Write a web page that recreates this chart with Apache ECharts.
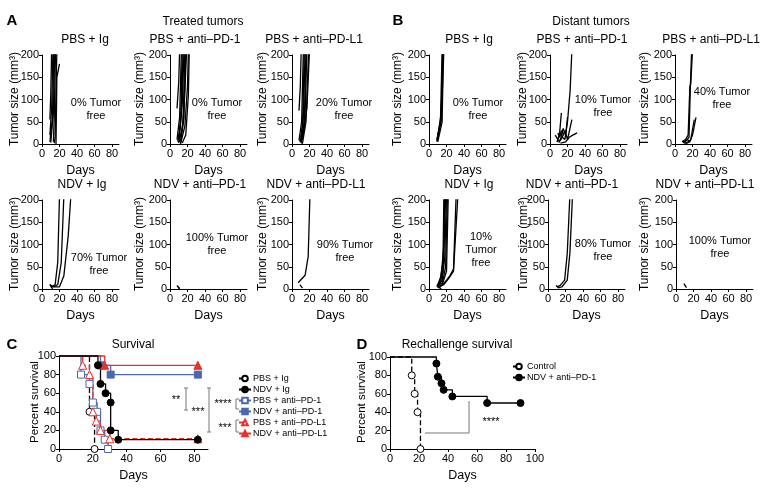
<!DOCTYPE html>
<html><head><meta charset="utf-8">
<script src="https://cdn.jsdelivr.net/npm/echarts@6/dist/echarts.min.js"></script>
<style>html,body{margin:0;padding:0;background:#fff}#c{width:764px;height:488px}</style>
</head><body><div id="c"></div><script>
// ---------- DATA ----------
const tumorXTicks = [0, 20, 40, 60, 80];
const tumorYTicks = [0, 50, 100, 150, 200];
const survXTicksC = [0, 20, 40, 60, 80];
const survXTicksD = [0, 20, 40, 60, 80, 100];

// Treated tumors (A): each array = list of mice, each mouse = [day, size mm3]
const trPBSIg = [
  [[9,55],[10,110],[11,210]],
  [[9,20],[11,80],[12.5,210]],
  [[9,5],[12,60],[13.5,210]],
  [[10,3],[13,70],[14.5,210]],
  [[13,5],[14,60],[15.5,210]],
  [[14,2],[15,15],[16,120],[17,210]],
  [[16,0],[17,150],[20,180]]
];
const trPBSPD1 = [
  [[8,80],[10,140],[11,210]],
  [[8,10],[11,60],[13,210]],
  [[9,5],[12,40],[14,210]],
  [[10,2],[13,70],[15,210]],
  [[10,15],[14,90],[16,210]],
  [[11,5],[15,50],[17,210]],
  [[12,3],[16,60],[18,210]],
  [[9,8],[14,30],[17,120],[19,210]],
  [[12,0],[17,40],[20,130],[21,210]],
  [[14,2],[18,20],[21,110],[22,210]]
];
const trPBSPDL1 = [
  [[8,75],[9.5,130],[10.5,210]],
  [[8,8],[11,50],[13,210]],
  [[9,5],[12,30],[14,210]],
  [[10,15],[13,60],[15,210]],
  [[10,3],[14,40],[16,210]],
  [[11,5],[15,70],[17,210]],
  [[12,2],[16,50],[19,210]],
  [[12,10],[17,80],[20,210]],
  [[9,10],[12,0]]
];
const trNDVIg = [
  [[9,10],[12,5],[15,10],[18,60],[20,210]],
  [[10,5],[14,5],[18,10],[22,60],[25,210]],
  [[10,8],[15,5],[20,5],[25,30],[30,120],[33,210]],
  [[9,10],[12,0]]
];
const trNDVPD1 = [
  [[8,8],[11,0]],
  [[9,5],[11,1]]
];
const trNDVPDL1 = [
  [[7,14],[15,31],[18.5,73],[20.5,210]],
  [[9,10],[12,2]]
];
// Distant tumors (B)
const diPBSIg = [
  [[9,5],[14,70],[16,210]],
  [[9,10],[14,60],[15.5,210]],
  [[10,15],[14,55],[17,210]],
  [[9,8],[13,45],[15,210]],
  [[10,5],[15,50],[16.5,210]]
];
const diPBSPD1 = [
  [[8,5],[12,25],[14,15],[17,10],[20,50],[23,120],[25,210]],
  [[6,20],[9,10],[11,25],[13,70]],
  [[8,5],[12,10],[15,35],[18,20],[20,60]],
  [[10,3],[14,15],[17,30],[20,10],[25,55]],
  [[12,2],[18,5],[22,15],[26,20],[31,25]],
  [[9,25],[11,15],[13,30],[16,20]]
];
const diPBSPDL1 = [
  [[8,5],[12,10],[15,20],[17,130],[18,135],[20,210]],
  [[9,3],[13,8],[16,15],[17.5,125],[19,210]],
  [[10,2],[15,5],[18,10],[22,55]],
  [[12,0],[17,5],[20,20],[24,60]],
  [[10,5],[14,10],[17,5]],
  [[9,8],[13,2]]
];
const diNDVIg = [
  [[9,5],[13,25],[16,60],[17,210]],
  [[10,3],[14,30],[17,100],[18,210]],
  [[9,8],[13,15],[16,40],[19,210]],
  [[10,5],[15,20],[18,70],[20,210]],
  [[11,2],[15,10],[19,50],[21,210]],
  [[10,6],[16,15],[20,40],[22,210]],
  [[12,3],[18,15],[24,30],[28,45],[31,210]],
  [[11,5],[17,10],[23,25],[28,40],[33,210]],
  [[10,5],[14,0]]
];
const diNDVPD1 = [
  [[10,5],[14,8],[19,20],[22,80],[25,210]],
  [[11,3],[16,5],[22,20],[25,80],[28,210]],
  [[9,8],[13,2]]
];
const diNDVPDL1 = [
  [[9,12],[12,3]]
];

// Survival (C): [day, percent]
const survPBSIg    = [[0,100],[18,40],[21,0]];
const survNDVIg    = [[0,100],[23,90],[24.5,70],[27.5,60],[30.5,50],[30.5,20],[35,10],[82,10]];
const survPBSPD1   = [[0,100],[13,80],[18,70],[20,50],[22.5,40],[24.5,20],[27,10],[29,0]];
const survNDVPD1   = [[0,100],[24.5,90],[30.5,80],[82,80]];
const survPBSPDL1  = [[0,100],[14,90],[18,80],[20,40],[22,30],[24.5,20],[30,11],[82,11]];
const survNDVPDL1  = [[0,100],[27,90],[82,90]];
// Rechallenge survival (D)
const rechControl  = [[0,100],[15,80],[17,60],[19,40],[21,0]];
const rechNDVPD1   = [[0,100],[32,92.9],[33,78.6],[35.5,71.4],[37,64.3],[43,57.1],[67,50],[90,50]];

// ---------- BUILD ----------
const FONT = '"Liberation Sans", Arial, Helvetica, sans-serif';
const grids = [], xAxes = [], yAxes = [], series = [], graphics = [];

function txt(x, y, text, size, o) {
  o = o || {};
  graphics.push({type:'text', x:x, y:y, rotation:o.rot||0, silent:true,
    style:{text:text, fontSize:size, fontFamily:FONT, fill:o.fill||'#000',
      fontWeight:o.bold?'bold':'normal', textAlign:o.align||'center',
      textVerticalAlign:'middle', lineHeight:o.lh||Math.round(size*1.2)}});
}
function seg(pts, color) {
  graphics.push({type:'polyline', silent:true, shape:{points:pts},
    style:{stroke:color||'#777', lineWidth:1, fill:null}});
}

const tumorPanels = [
  {d:trPBSIg,   l:42,  t:55,  title:'PBS + Ig',          tx:85,  free:'0% Tumor\nfree',   fx:96,  fy:109, ylx:15},
  {d:trPBSPD1,  l:170, t:55,  title:'PBS + anti–PD-1',   tx:195, free:'0% Tumor\nfree',   fx:217, fy:109, ylx:140},
  {d:trPBSPDL1, l:292, t:55,  title:'PBS + anti–PD-L1',  tx:314, free:'20% Tumor\nfree',  fx:344, fy:109, ylx:263},
  {d:diPBSIg,   l:429, t:55,  title:'PBS + Ig',          tx:469, free:'0% Tumor\nfree',   fx:478, fy:109, ylx:398},
  {d:diPBSPD1,  l:550, t:55,  title:'PBS + anti–PD-1',   tx:582, free:'10% Tumor\nfree',  fx:603, fy:106, ylx:523},
  {d:diPBSPDL1, l:675, t:55,  title:'PBS + anti–PD-L1',  tx:711, free:'40% Tumor\nfree',  fx:722, fy:98,  ylx:645},
  {d:trNDVIg,   l:42,  t:200, title:'NDV + Ig',          tx:82,  free:'70% Tumor\nfree',  fx:99,  fy:264, ylx:15},
  {d:trNDVPD1,  l:170, t:200, title:'NDV + anti–PD-1',   tx:200, free:'100% Tumor\nfree', fx:217, fy:244, ylx:140},
  {d:trNDVPDL1, l:292, t:200, title:'NDV + anti–PD-L1',  tx:316, free:'90% Tumor\nfree',  fx:345, fy:251, ylx:263},
  {d:diNDVIg,   l:429, t:200, title:'NDV + Ig',          tx:469, free:'10%\nTumor\nfree', fx:481, fy:250, ylx:398},
  {d:diNDVPD1,  l:548, t:200, title:'NDV + anti–PD-1',   tx:572, free:'80% Tumor\nfree',  fx:603, fy:250, ylx:524},
  {d:diNDVPDL1, l:676, t:200, title:'NDV + anti–PD-L1',  tx:705, free:'100% Tumor\nfree', fx:720, fy:247, ylx:645}
];

function axisCommon() {
  return {axisLine:{show:true, onZero:false, lineStyle:{color:'#000', width:1}},
          axisTick:{show:true, inside:false, length:3, lineStyle:{color:'#000', width:1}},
          splitLine:{show:false}};
}

tumorPanels.forEach(function(p, i) {
  grids.push({left:p.l, top:p.t, width:77, height:89});
  xAxes.push(Object.assign(axisCommon(), {gridIndex:i, type:'value', min:0, max:88,
    axisTick:{show:true, length:3, customValues:tumorXTicks, lineStyle:{color:'#000'}},
    axisLabel:{customValues:tumorXTicks, fontSize:11, color:'#000', fontFamily:FONT, margin:4},
    name:'Days', nameLocation:'middle', nameGap:20,
    nameTextStyle:{fontSize:12.5, color:'#000', fontFamily:FONT}}));
  yAxes.push(Object.assign(axisCommon(), {gridIndex:i, type:'value', min:0, max:200, interval:50,
    axisLabel:{fontSize:11, color:'#000', fontFamily:FONT, margin:3}}));
  p.d.forEach(function(curve) {
    series.push({type:'line', xAxisIndex:i, yAxisIndex:i, data:curve, showSymbol:false,
      silent:true, clip:true, lineStyle:{color:'#000', width:1.3}});
  });
  txt(p.tx, p.t - 15, p.title, 12);
  txt(p.fx, p.fy, p.free, 11, {lh:13});
  txt(p.ylx, p.t + 44, 'Tumor size (mm³)', 12, {rot:Math.PI/2});
});

// Survival C
const ciC = grids.length;
grids.push({left:59, top:356, width:149, height:93});
xAxes.push(Object.assign(axisCommon(), {gridIndex:ciC, type:'value', min:0, max:88,
  axisTick:{show:true, length:3, customValues:survXTicksC, lineStyle:{color:'#000'}},
  axisLabel:{customValues:survXTicksC, fontSize:11, color:'#000', fontFamily:FONT, margin:4},
  name:'Days', nameLocation:'middle', nameGap:20, nameTextStyle:{fontSize:12.5, color:'#000', fontFamily:FONT}}));
yAxes.push(Object.assign(axisCommon(), {gridIndex:ciC, type:'value', min:0, max:100, interval:20,
  axisLabel:{fontSize:11, color:'#000', fontFamily:FONT, margin:3}}));

const ciD = grids.length;
grids.push({left:390, top:357, width:145, height:92});
xAxes.push(Object.assign(axisCommon(), {gridIndex:ciD, type:'value', min:0, max:100, interval:20,
  axisTick:{show:true, length:3, customValues:survXTicksD, lineStyle:{color:'#000'}},
  axisLabel:{customValues:survXTicksD, fontSize:11, color:'#000', fontFamily:FONT, margin:4},
  name:'Days', nameLocation:'middle', nameGap:20, nameTextStyle:{fontSize:12.5, color:'#000', fontFamily:FONT}}));
yAxes.push(Object.assign(axisCommon(), {gridIndex:ciD, type:'value', min:0, max:100, interval:20,
  axisLabel:{fontSize:11, color:'#000', fontFamily:FONT, margin:3}}));

const BLUE = '#4a68b0', RED = '#e5322b';
function surv(name, data, gi, color, symbol, open, dashed, size) {
  series.push({type:'line', name:name, xAxisIndex:gi, yAxisIndex:gi, step:'end',
    data:data.map(function(v, k){ return k === 0 ? {value:v, symbol:'none'} : v; }),
    symbol:symbol, symbolSize:size||7, showSymbol:true, silent:true, clip:false,
    lineStyle:{color:color, width:1.3, type:dashed?'dashed':'solid'},
    itemStyle:{color:open?'#fff':color, borderColor:color, borderWidth:1}});
}
surv('PBS + Ig', survPBSIg, ciC, '#000', 'circle', true, true);
surv('PBS + anti–PD-1', survPBSPD1, ciC, BLUE, 'rect', true, false);
surv('PBS + anti–PD-L1', survPBSPDL1, ciC, RED, 'triangle', true, true, 8);
surv('NDV + anti–PD-1', survNDVPD1, ciC, BLUE, 'rect', false, false);
surv('NDV + anti–PD-L1', survNDVPDL1, ciC, RED, 'triangle', false, false, 8);
surv('NDV + Ig', survNDVIg, ciC, '#000', 'circle', false, false);
surv('Control', rechControl, ciD, '#000', 'circle', true, true);
surv('NDV + anti–PD-1 ', rechNDVPD1, ciD, '#000', 'circle', false, false);

// texts
txt(12, 21, 'A', 15, {bold:true});
txt(203, 22, 'Treated tumors', 12);
txt(398, 21, 'B', 15, {bold:true});
txt(591, 22, 'Distant tumors', 12);
txt(12, 345, 'C', 15, {bold:true});
txt(133, 345, 'Survival', 12);
txt(35, 402, 'Percent survival', 11.5, {rot:Math.PI/2});
txt(362, 345, 'D', 15, {bold:true});
txt(457, 345, 'Rechallenge survival', 12);
txt(362, 402, 'Percent survival', 11.5, {rot:Math.PI/2});

// significance annotations (C)
txt(176, 400, '**', 11);
seg([[184,388],[188,388]]); seg([[186,388],[186,410]]); seg([[184,410],[188,410]]);
txt(198, 412, '***', 11);
seg([[207,388],[211,388]]); seg([[209,388],[209,432]]); seg([[207,432],[211,432]]);
txt(223, 404, '****', 11);
seg([[239,399],[236,399],[236,409],[239,409]]);
txt(225, 428, '***', 11);
seg([[239,420],[236,420],[236,432],[239,432]]);
// (D)
seg([[425,433],[469,433],[469,401]]);
txt(491, 422, '****', 11);

const option = {
  animation:false,
  backgroundColor:'#fff',
  textStyle:{fontFamily:FONT},
  grid:grids, xAxis:xAxes, yAxis:yAxes, series:series,
  legend:[
    {data:['PBS + Ig','NDV + Ig','PBS + anti–PD-1','NDV + anti–PD-1','PBS + anti–PD-L1','NDV + anti–PD-L1'],
     orient:'vertical', left:233, top:369, itemWidth:12, itemHeight:7, itemGap:2,
     textStyle:{fontSize:9, color:'#000', fontFamily:FONT, padding:[0,0,0,-3]}, selectedMode:false},
    {data:['Control','NDV + anti–PD-1 '],
     orient:'vertical', left:507, top:357, itemWidth:12, itemHeight:7, itemGap:2,
     textStyle:{fontSize:9, color:'#000', fontFamily:FONT, padding:[0,0,0,-3]}, selectedMode:false}
  ],
  graphic:graphics
};
const chart = echarts.init(document.getElementById('c'), null, {renderer:'canvas'});
chart.setOption(option);
</script></body></html>
